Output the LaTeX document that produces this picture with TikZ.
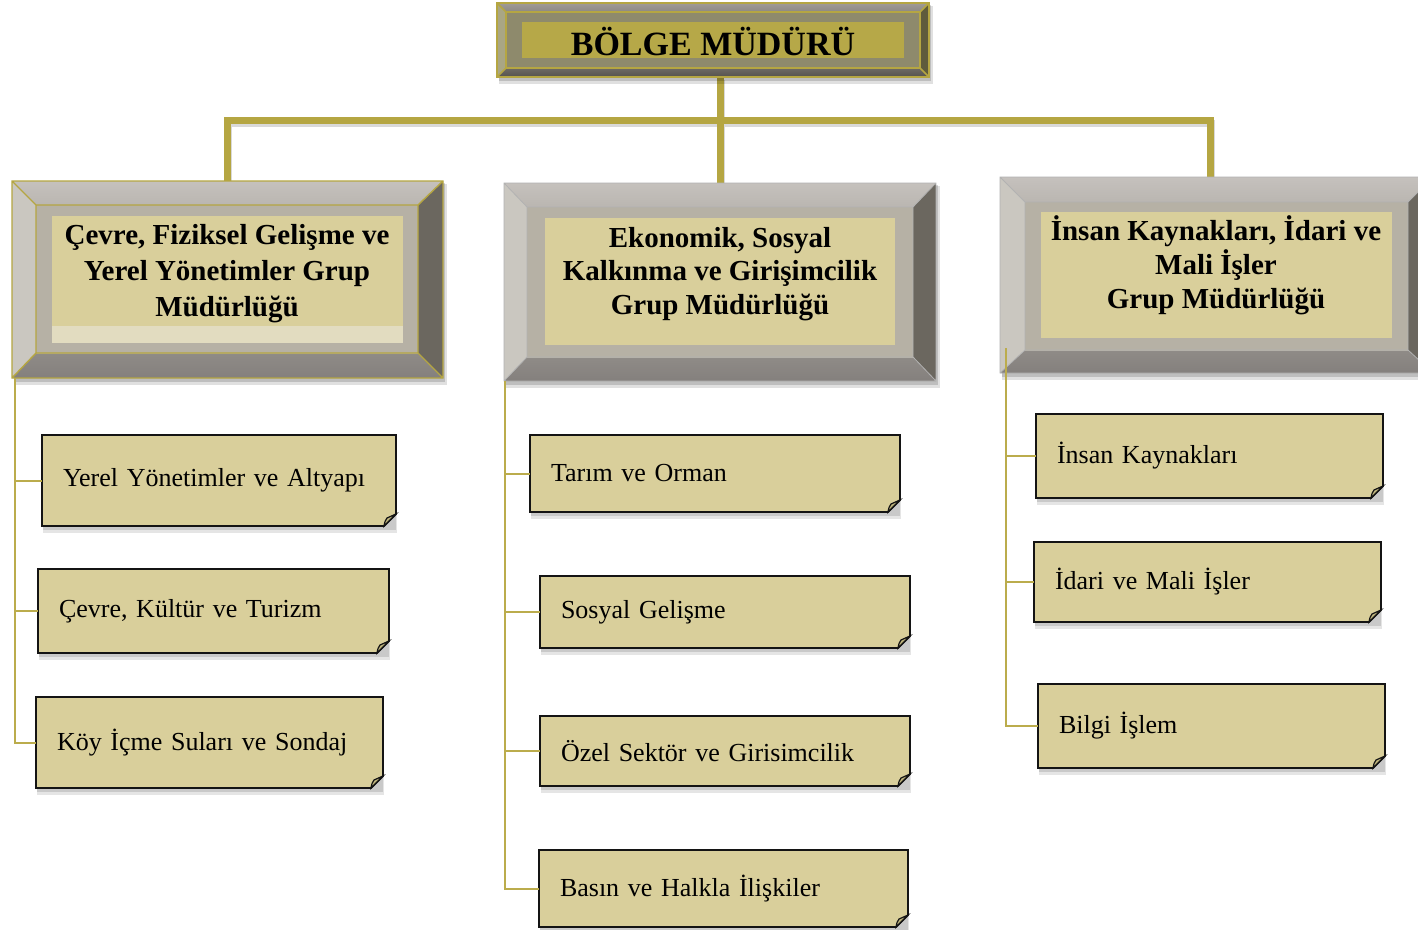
\documentclass[tikz,border=0pt]{standalone}
\usepackage{fontspec}
\setmainfont{Liberation Serif}
\usetikzlibrary{calc}
\definecolor{gold}{HTML}{B5A642}
\definecolor{goldline}{HTML}{BBAC4C}
\definecolor{panel}{HTML}{D9CF9B}
\definecolor{panellight}{HTML}{E2DCC0}
\definecolor{bosspanel}{HTML}{B6A848}
\definecolor{foldc}{HTML}{BDB37C}
\newcommand{\goldbevel}{%
  \definecolor{bvTa}{HTML}{A09B96}\definecolor{bvTb}{HTML}{8C8984}%
  \definecolor{bvBa}{HTML}{6E6A64}\definecolor{bvBb}{HTML}{55524D}%
  \definecolor{bvLa}{HTML}{A9A684}\definecolor{bvLb}{HTML}{D9D49E}%
  \definecolor{bvRa}{HTML}{5F5B3C}\definecolor{bvRb}{HTML}{777248}%
  \definecolor{bvIa}{HTML}{8E8A6C}\definecolor{bvIb}{HTML}{B3A54C}}
\newcommand{\graybevel}{%
  \definecolor{bvTa}{HTML}{C5C1BD}\definecolor{bvTb}{HTML}{BAB6B1}%
  \definecolor{bvBa}{HTML}{8F8B87}\definecolor{bvBb}{HTML}{84807D}%
  \definecolor{bvLa}{HTML}{CAC7C0}\definecolor{bvLb}{HTML}{ECE7CA}%
  \definecolor{bvRa}{HTML}{6B675F}\definecolor{bvRb}{HTML}{858059}%
  \definecolor{bvIa}{HTML}{B6B1A5}\definecolor{bvIb}{HTML}{D3CCA6}}
% outer x1 y1 x2 y2, inner x1 y1 x2 y2
\newcommand{\bevelframe}[8]{%
  \fill[black,opacity=0.12] (#1+2,#2+3) rectangle (#3+4,#4+7);
  \fill[black,opacity=0.15] (#1+2,#2+2) rectangle (#3+2,#4+4);
  \shade[top color=bvTa,bottom color=bvTb] (#1,#2) -- (#3,#2) -- (#7,#6) -- (#5,#6) -- cycle;
  \shade[top color=bvBa,bottom color=bvBb] (#5,#8) -- (#7,#8) -- (#3,#4) -- (#1,#4) -- cycle;
  \shade[top color=bvLa,middle color=bvLb,bottom color=bvLa] (#1,#2) -- (#5,#6) -- (#5,#8) -- (#1,#4) -- cycle;
  \shade[top color=bvRa,middle color=bvRb,bottom color=bvRa] (#3,#2) -- (#7,#6) -- (#7,#8) -- (#3,#4) -- cycle;
  \shade[top color=bvIa,middle color=bvIb,bottom color=bvIa] (#5,#6) rectangle (#7,#8);
  \draw[bvline] (#1,#2) rectangle (#3,#4) (#5,#6) rectangle (#7,#8)
    (#1,#2) -- (#5,#6) (#3,#2) -- (#7,#6) (#1,#4) -- (#5,#8) (#3,#4) -- (#7,#8);
}
% name x1 y1 x2 y2 text
\newcommand{\leafbox}[6]{%
  \pgfmathsetmacro{\lfw}{#4-#2-42}%
  \pgfmathsetmacro{\lfh}{#5-#3}%
  \fill[black,opacity=0.10] (#2+1,#3+3) rectangle (#4+1,#5+7);
  \fill[black,opacity=0.12] (#2+1,#3+2) rectangle (#4,#5+4);
  \filldraw[leafline,fill=panel] (#2,#3) -- (#4,#3) -- (#4,#5-12) -- (#4-12,#5) -- (#2,#5) -- cycle;
  \filldraw[leafline,line width=1.2pt,fill=foldc] (#4-12,#5) .. controls (#4-11,#5-5) .. (#4-9,#5-8) .. controls (#4-5,#5-10) .. (#4,#5-12) -- cycle;
  \node[leaftext, text width=\lfw pt, minimum height=\lfh pt] (#1) at ({(#2+#4)/2},{(#3+#5)/2}) {#6};
}
\begin{document}
\begin{tikzpicture}[x=1pt,y=-1pt,
  frame/.style={draw=none,inner sep=0pt,outer sep=0pt},
  trunk/.style={draw=gold,line width=7pt},
  trunkshadow/.style={draw=black,opacity=0.15,line width=7pt,transform canvas={xshift=1pt,yshift=-3pt}},
  branch/.style={draw=goldline,line width=2pt},
  leafline/.style={draw=black!92,line width=1.8pt,line join=miter},
  leaftext/.style={inner xsep=21pt,inner ysep=0pt,outer sep=0pt,align=left,
    font=\fontsize{26}{30}\selectfont},
  grptext/.style={align=center,inner sep=0pt,anchor=base},
]
\useasboundingbox (0,0) rectangle (1418,929);
\clip (0,0) rectangle (1418,929);
\fill[white] (0,0) rectangle (1418,929);

% frame anchors
\node[frame,minimum width=433pt,minimum height=74pt] (boss) at (713,40) {};
\node[frame,minimum width=431pt,minimum height=197pt] (g1) at (227.5,279.5) {};
\node[frame,minimum width=432pt,minimum height=198pt] (g2) at (720,282) {};
\node[frame,minimum width=433pt,minimum height=196pt] (g3) at (1216.5,275) {};
\coordinate (bus) at (720,120);
\coordinate (g3top) at (1210,177);

% trunk connectors
\draw[trunkshadow] (boss.south -| bus) -- (bus) (g1.north) -- (g1.north |- bus) -- (g3top |- bus) -- (g3top) (bus) -- (g2.north);
\draw[trunk] (boss.south -| bus) -- (bus);
\draw[trunk] (g1.north) -- (g1.north |- bus) -- (g3top |- bus) -- (g3top);
\draw[trunk] (bus) -- (g2.north);

% top box
\begin{scope}
  \tikzset{bvline/.style={draw=gold,line width=1.6pt}}
  \goldbevel
  \bevelframe{497}{3}{929}{77}{506}{12}{920}{68}
  \fill[bosspanel] (522,22) rectangle (904,58);
\end{scope}
\node[grptext,font=\fontsize{34}{40}\selectfont\bfseries] (bosst) at (713,55.5) {BÖLGE MÜDÜRÜ};

% group boxes
\begin{scope}
  \tikzset{bvline/.style={draw=gold,line width=1.4pt}}
  \graybevel
  \bevelframe{12}{181}{443}{378}{36}{205}{418}{353}
  \fill[panel] (52,216) rectangle (403,326);
  \fill[panellight] (52,326) rectangle (403,343);
\end{scope}
\begin{scope}
  \tikzset{bvline/.style={draw=black!30,line width=0.8pt}}
  \graybevel
  \bevelframe{504}{183}{936}{381}{527}{207}{913}{357}
  \fill[panel] (545,218) rectangle (895,345);
  \bevelframe{1000}{177}{1433}{373}{1025}{202}{1408}{350}
  \fill[panel] (1041,212) rectangle (1392,338);
\end{scope}
\node[grptext,font=\fontsize{29}{36}\selectfont\bfseries] (g1t) at (227,316)
  {Çevre, Fiziksel Gelişme ve\\Yerel Yönetimler Grup\\Müdürlüğü};
\node[grptext,font=\fontsize{29}{33.5}\selectfont\bfseries] (g2t) at (720,314)
  {Ekonomik, Sosyal\\Kalkınma ve Girişimcilik\\Grup Müdürlüğü};
\node[grptext,font=\fontsize{29}{34}\selectfont\bfseries] (g3t) at (1216,308)
  {İnsan Kaynakları, İdari ve\\Mali İşler\\Grup Müdürlüğü};

% leaves
\leafbox{l1}{42}{435}{396}{526}{Yerel Yönetimler ve Altyapı}
\leafbox{l2}{38}{569}{389}{653}{Çevre, Kültür ve Turizm}
\leafbox{l3}{36}{697}{383}{788}{Köy İçme Suları ve Sondaj}
\leafbox{m1}{530}{435}{900}{512}{Tarım ve Orman}
\leafbox{m2}{540}{576}{910}{648}{Sosyal Gelişme}
\leafbox{m3}{540}{716}{910}{786}{Özel Sektör ve Girisimcilik}
\leafbox{m4}{539}{850}{908}{927}{Basın ve Halkla İlişkiler}
\leafbox{r1}{1036}{414}{1383}{498}{İnsan Kaynakları}
\leafbox{r2}{1034}{542}{1381}{622}{İdari ve Mali İşler}
\leafbox{r3}{1038}{684}{1385}{768}{Bilgi İşlem}

% branch connectors
\coordinate (s1) at (15,378);
\coordinate (s2) at (505,381);
\coordinate (s3) at (1006,348);
\draw[branch] (s1) |- (l3.west);
\draw[branch] (s1 |- l1.west) -- (l1.west);
\draw[branch] (s1 |- l2.west) -- (l2.west);
\draw[branch] (s2) |- (m4.west);
\draw[branch] (s2 |- m1.west) -- (m1.west);
\draw[branch] (s2 |- m2.west) -- (m2.west);
\draw[branch] (s2 |- m3.west) -- (m3.west);
\draw[branch] (s3) |- (r3.west);
\draw[branch] (s3 |- r1.west) -- (r1.west);
\draw[branch] (s3 |- r2.west) -- (r2.west);
\end{tikzpicture}
\end{document}
